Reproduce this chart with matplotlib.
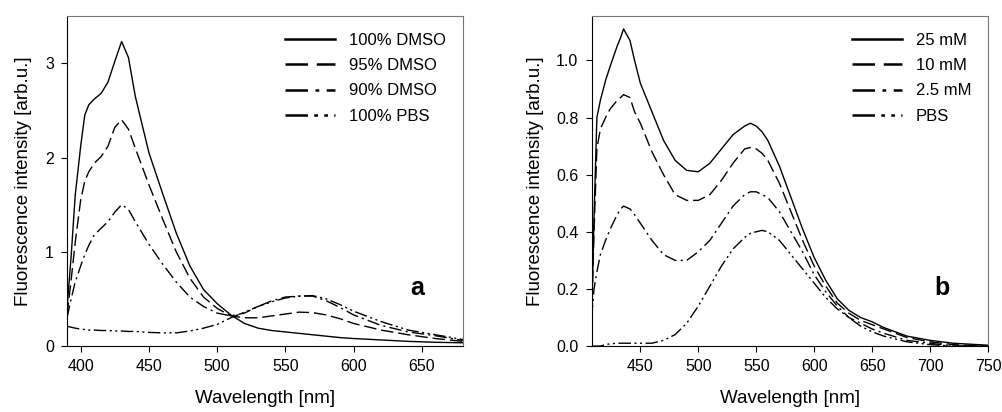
import numpy as np
import matplotlib.pyplot as plt

plt.rcParams["font.family"] = ["Liberation Sans", "DejaVu Sans"]
plt.rcParams["font.size"] = 11.5

# panel a: solvent composition
wl_a = [390, 393, 396, 400, 403, 406, 410, 415, 420, 425, 430, 435, 440, 450, 460, 470,
        480, 490, 500, 510, 520, 530, 540, 550, 560, 570, 580, 590, 600, 620, 640, 660, 680]
dmso100 = [0.40, 0.95, 1.60, 2.12, 2.45, 2.56, 2.62, 2.68, 2.80, 3.02, 3.23, 3.06, 2.65, 2.05,
           1.62, 1.20, 0.85, 0.60, 0.45, 0.33, 0.24, 0.19, 0.165, 0.15, 0.135, 0.12, 0.105,
           0.09, 0.08, 0.065, 0.05, 0.04, 0.035]
dmso95 = [0.33, 0.70, 1.10, 1.55, 1.75, 1.85, 1.94, 2.01, 2.12, 2.32, 2.40, 2.30, 2.10, 1.71,
          1.35, 1.00, 0.72, 0.52, 0.40, 0.32, 0.30, 0.30, 0.32, 0.34, 0.36, 0.355, 0.33,
          0.29, 0.24, 0.17, 0.12, 0.08, 0.05]
dmso90 = [0.30, 0.50, 0.68, 0.85, 0.97, 1.07, 1.18, 1.25, 1.32, 1.42, 1.50, 1.45, 1.32, 1.08,
          0.87, 0.68, 0.52, 0.42, 0.35, 0.32, 0.35, 0.42, 0.48, 0.52, 0.53, 0.53, 0.48,
          0.41, 0.33, 0.22, 0.15, 0.11, 0.06]
pbs100 = [0.21, 0.20, 0.19, 0.18, 0.175, 0.17, 0.17, 0.165, 0.165, 0.16, 0.16, 0.155, 0.155,
          0.145, 0.14, 0.14, 0.16, 0.19, 0.23, 0.30, 0.36, 0.42, 0.47, 0.51, 0.53, 0.535,
          0.50, 0.44, 0.37, 0.26, 0.17, 0.12, 0.07]
labels_a = ["100% DMSO", "95% DMSO", "90% DMSO", "100% PBS"]

# panel b: concentration series
wl_b = [408, 410, 412.5, 415.5, 420, 424, 430, 433, 435.5, 441, 445, 450, 460, 470, 480, 490,
        500, 510, 520, 530, 540, 545, 550, 555, 560, 570, 580, 590, 600, 610, 620, 630, 640,
        650, 660, 680, 700, 720, 750]
c25 = [0.10, 0.45, 0.80, 0.86, 0.93, 0.98, 1.05, 1.08, 1.11, 1.07, 1.00, 0.92, 0.82, 0.72,
       0.65, 0.615, 0.61, 0.64, 0.69, 0.74, 0.77, 0.78, 0.77, 0.75, 0.72, 0.63, 0.52, 0.41,
       0.31, 0.23, 0.165, 0.125, 0.10, 0.085, 0.065, 0.035, 0.02, 0.01, 0.003]
c10 = [0.10, 0.40, 0.69, 0.76, 0.80, 0.83, 0.86, 0.87, 0.88, 0.87, 0.82, 0.78, 0.68, 0.60,
       0.53, 0.51, 0.51, 0.53, 0.58, 0.64, 0.69, 0.695, 0.69, 0.675, 0.65, 0.57, 0.47, 0.37,
       0.28, 0.21, 0.15, 0.115, 0.09, 0.075, 0.06, 0.03, 0.015, 0.005, 0.0]
c2_5 = [0.10, 0.20, 0.26, 0.32, 0.37, 0.41, 0.46, 0.48, 0.49, 0.48, 0.46, 0.43, 0.37, 0.32,
        0.30, 0.30, 0.33, 0.37, 0.43, 0.49, 0.53, 0.54, 0.54, 0.53, 0.52, 0.47, 0.40, 0.33,
        0.25, 0.19, 0.14, 0.10, 0.08, 0.06, 0.045, 0.02, 0.01, 0.0, 0.0]
pbs = [0.0, 0.0, 0.0, 0.0, 0.005, 0.008, 0.01, 0.01, 0.01, 0.01, 0.01, 0.01, 0.01, 0.02,
       0.04, 0.08, 0.14, 0.21, 0.28, 0.34, 0.38, 0.395, 0.40, 0.405, 0.40, 0.37, 0.32, 0.27,
       0.22, 0.17, 0.13, 0.10, 0.07, 0.05, 0.035, 0.015, 0.005, 0.0, 0.0]
labels_b = ["25 mM", "10 mM", "2.5 mM", "PBS"]

styles = [
    dict(linestyle="-"),
    dict(dashes=(9, 3.5)),
    dict(dashes=(9, 3, 1.5, 3)),
    dict(dashes=(9, 2.5, 1.5, 2.5, 1.5, 2.5)),
]

fig = plt.figure(figsize=(10.02, 4.12), dpi=100)
ax1 = fig.add_axes([0.0669, 0.160, 0.395, 0.801])
ax2 = fig.add_axes([0.5905, 0.160, 0.3955, 0.801])

for y, lab, st in zip([dmso100, dmso95, dmso90, pbs100], labels_a, styles):
    ax1.plot(wl_a, y, color="black", lw=1.0, label=lab, **st)
for y, lab, st in zip([c25, c10, c2_5, pbs], labels_b, styles):
    ax2.plot(wl_b, y, color="black", lw=1.0, label=lab, **st)

ax1.set_xlim(390, 680)
ax1.set_ylim(0, 3.5)
ax1.set_xticks([400, 450, 500, 550, 600, 650])
ax1.set_yticks([0, 1, 2, 3])

ax2.set_xlim(408, 750)
ax2.set_ylim(0, 1.155)
ax2.set_xticks([450, 500, 550, 600, 650, 700, 750])
ax2.set_yticks([0.0, 0.2, 0.4, 0.6, 0.8, 1.0])
ax2.set_yticklabels(["0.0", "0.2", "0.4", "0.6", "0.8", "1.0"])

for ax, tag in [(ax1, "a"), (ax2, "b")]:
    ax.set_xlabel("Wavelength [nm]", fontsize=13.5, labelpad=11)
    ax.set_ylabel("Fluorescence intensity [arb.u.]", fontsize=13.5, labelpad=9)
    ax.tick_params(direction="out", length=4.5, width=0.8, pad=5, labelsize=11.5)
    for side in ["top", "right"]:
        ax.spines[side].set_color("#777777")
    for sp in ax.spines.values():
        sp.set_linewidth(0.8)
    leg = ax.legend(loc="upper right", frameon=False, handlelength=3.0, handletextpad=0.85,
                    labelspacing=0.62, fontsize=12, borderaxespad=0.6, borderpad=0.4)
    for line in leg.get_lines():
        line.set_linewidth(1.8)
    ax.text(0.885, 0.176, tag, transform=ax.transAxes, fontsize=18, fontweight="bold",
            ha="center", va="center")

fig.savefig("out.png", dpi=100)
